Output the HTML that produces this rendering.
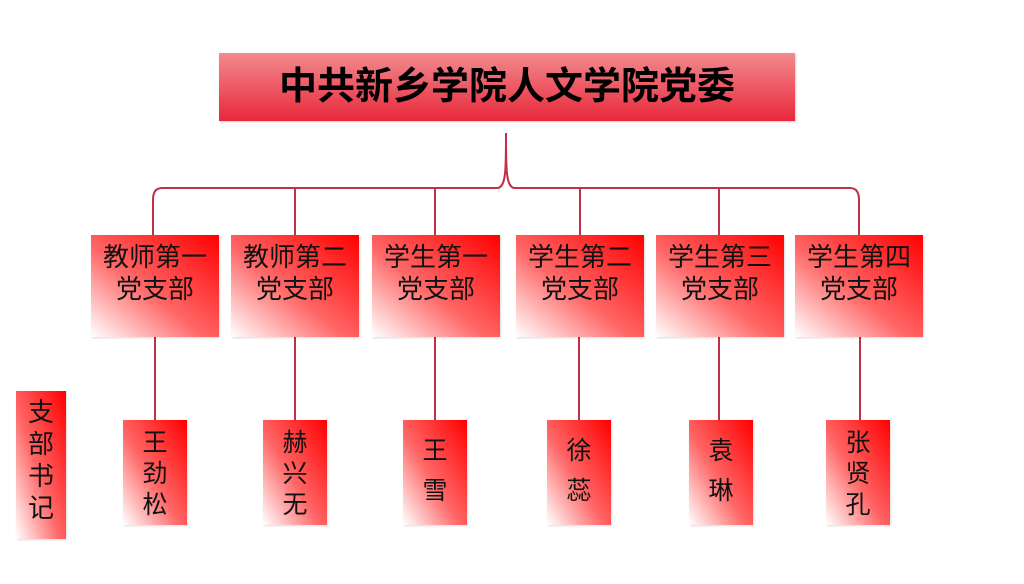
<!DOCTYPE html>
<html><head><meta charset="utf-8"><style>
body{margin:0;width:1024px;height:584px;background:#fff;position:relative;overflow:hidden;font-family:"Liberation Sans","Noto Sans CJK SC",sans-serif;}
.b{position:absolute;background:linear-gradient(to top right,#fff 0%,#f66 45%,#f00 100%);box-shadow:1px 1px 2px rgba(0,0,0,0.15);}
.br{top:235px;height:102px;width:128px;text-align:center;font-size:26px;line-height:32px;padding-top:6px;box-sizing:border-box;color:#111;}
.n{top:420px;height:105px;width:64px;}
.c{position:absolute;left:0;width:64px;text-align:center;font-size:25px;color:#111;line-height:30px;}
</style></head><body>
<div style="position:absolute;left:219px;top:53px;width:576px;height:68px;background:linear-gradient(to bottom,#f28a8f,#e8283a);box-shadow:1px 1px 2px rgba(0,0,0,0.2);text-align:center;font-size:38px;font-weight:bold;line-height:68px;color:#000;">中共新乡学院人文学院党委</div>
<svg style="position:absolute;left:0;top:0" width="1024" height="584">
<g stroke="#c0304a" stroke-width="2" fill="none">
<path d="M506,133 C506,170 506,186 498,188 L162,188 Q153,188 153,200 L153,235"/>
<path d="M506,133 C506,170 506,186 514,188 L850,188 Q859,188 859,200 L859,235"/>
<path d="M295,188V235M435,188V235M580,188V235M719,188V235"/>
<path d="M155,337V420M295,337V420M435,337V420M579,337V420M719,337V420M860,337V420"/>
</g></svg>
<div class="b br" style="left:91px">教师第一<br>党支部</div>
<div class="b br" style="left:231px">教师第二<br>党支部</div>
<div class="b br" style="left:372px">学生第一<br>党支部</div>
<div class="b br" style="left:516px">学生第二<br>党支部</div>
<div class="b br" style="left:656px">学生第三<br>党支部</div>
<div class="b br" style="left:795px">学生第四<br>党支部</div>
<div class="b" style="left:16px;top:391px;width:50px;height:148px;">
<div style="position:absolute;left:0;width:50px;top:5px;text-align:center;font-size:26px;line-height:32px;color:#111;">支<br>部<br>书<br>记</div></div>
<div class="b n" style="left:123px"><div class="c" style="top:8px">王</div><div class="c" style="top:39px">劲</div><div class="c" style="top:70px">松</div></div>
<div class="b n" style="left:263px"><div class="c" style="top:8px">赫</div><div class="c" style="top:39px">兴</div><div class="c" style="top:70px">无</div></div>
<div class="b n" style="left:403px"><div class="c" style="top:16px">王</div><div class="c" style="top:56px">雪</div></div>
<div class="b n" style="left:547px"><div class="c" style="top:16px">徐</div><div class="c" style="top:56px">蕊</div></div>
<div class="b n" style="left:689px"><div class="c" style="top:16px">袁</div><div class="c" style="top:56px">琳</div></div>
<div class="b n" style="left:826px"><div class="c" style="top:8px">张</div><div class="c" style="top:39px">贤</div><div class="c" style="top:70px">孔</div></div>
</body></html>
